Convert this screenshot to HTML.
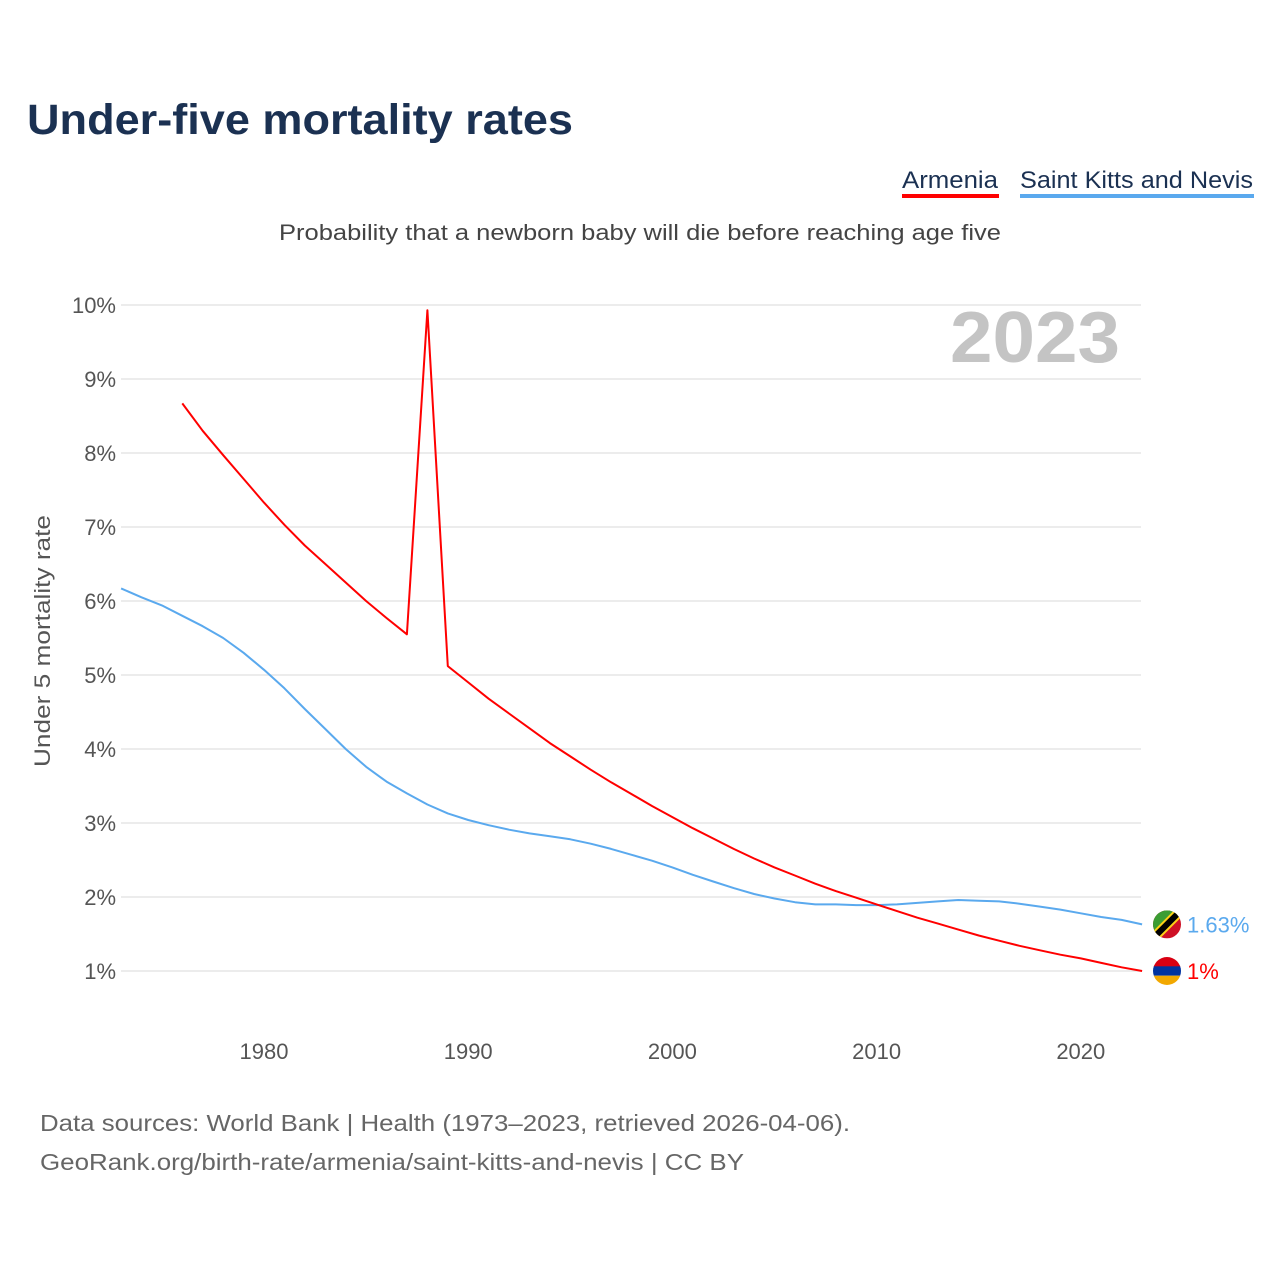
<!DOCTYPE html>
<html><head><meta charset="utf-8">
<style>
body{margin:0;background:#fff;font-family:"Liberation Sans",sans-serif;}
svg{display:block}
</style></head>
<body>
<svg width="1280" height="1280" xmlns="http://www.w3.org/2000/svg">
<text x="27" y="134" font-size="43" font-weight="bold" fill="#1b3152" textLength="546" lengthAdjust="spacingAndGlyphs">Under-five mortality rates</text>
<g>
<text x="902" y="188" font-size="24" fill="#1b3152" textLength="96" lengthAdjust="spacingAndGlyphs">Armenia</text>
<rect x="902" y="194" width="97" height="4" fill="#ff0000"/>
<text x="1020" y="188" font-size="24" fill="#1b3152" textLength="233" lengthAdjust="spacingAndGlyphs">Saint Kitts and Nevis</text>
<rect x="1020" y="194" width="234" height="4" fill="#5aa9ee"/>
</g>
<text x="279" y="240" font-size="22" fill="#444" textLength="722" lengthAdjust="spacingAndGlyphs">Probability that a newborn baby will die before reaching age five</text>
<text x="950" y="362" font-size="72" font-weight="bold" fill="#c4c4c4" textLength="170" lengthAdjust="spacingAndGlyphs">2023</text>
<text transform="translate(50,767) rotate(-90)" font-size="22" fill="#555" textLength="252" lengthAdjust="spacingAndGlyphs">Under 5 mortality rate</text>
<g id="grid"></g>
<g id="ticks"></g>
<g id="series"></g>
<g id="ends"></g>
<text x="40" y="1131" font-size="23" fill="#666" textLength="810" lengthAdjust="spacingAndGlyphs">Data sources: World Bank | Health (1973–2023, retrieved 2026-04-06).</text>
<text x="40" y="1170" font-size="23" fill="#666" textLength="704" lengthAdjust="spacingAndGlyphs">GeoRank.org/birth-rate/armenia/saint-kitts-and-nevis | CC BY</text>
</svg>
<script>
const yTicks=[1,2,3,4,5,6,7,8,9,10];
const xTicks=[1980,1990,2000,2010,2020];
const armeniaYears=[1976,1977,1978,1979,1980,1981,1982,1983,1984,1985,1986,1987,1988,1989,1990,1991,1992,1993,1994,1995,1996,1997,1998,1999,2000,2001,2002,2003,2004,2005,2006,2007,2008,2009,2010,2011,2012,2013,2014,2015,2016,2017,2018,2019,2020,2021,2022,2023];
const armeniaValues=[8.67,8.3,7.97,7.65,7.33,7.03,6.75,6.5,6.25,6.0,5.77,5.55,9.93,5.12,4.9,4.68,4.48,4.28,4.08,3.9,3.72,3.55,3.39,3.23,3.08,2.93,2.79,2.65,2.52,2.4,2.29,2.18,2.08,1.99,1.9,1.81,1.72,1.64,1.56,1.48,1.41,1.34,1.28,1.22,1.17,1.11,1.05,1.0];
const sknYears=[1973,1974,1975,1976,1977,1978,1979,1980,1981,1982,1983,1984,1985,1986,1987,1988,1989,1990,1991,1992,1993,1994,1995,1996,1997,1998,1999,2000,2001,2002,2003,2004,2005,2006,2007,2008,2009,2010,2011,2012,2013,2014,2015,2016,2017,2018,2019,2020,2021,2022,2023];
const sknValues=[6.17,6.05,5.94,5.8,5.66,5.5,5.3,5.07,4.82,4.54,4.27,4.0,3.76,3.56,3.4,3.25,3.13,3.04,2.97,2.91,2.86,2.82,2.78,2.72,2.65,2.57,2.49,2.4,2.3,2.21,2.12,2.04,1.98,1.93,1.9,1.9,1.89,1.89,1.9,1.92,1.94,1.96,1.95,1.94,1.91,1.87,1.83,1.78,1.73,1.69,1.63];
const NS="http://www.w3.org/2000/svg";
const X=y=>264+(y-1980)*20.42;
const Y=v=>971-(v-1)*74;
function mk(tag,attrs,parent){const e=document.createElementNS(NS,tag);for(const k in attrs)e.setAttribute(k,attrs[k]);document.getElementById(parent).appendChild(e);return e;}
yTicks.forEach(t=>{
 const l=mk('line',{x1:121,x2:1141,y1:Y(t),y2:Y(t),stroke:'#e6e6e6','stroke-width':1.5},'grid');
 
 
 const tx=mk('text',{x:116,y:Y(t)+8,'font-size':22,fill:'#555','text-anchor':'end'},'ticks');
 tx.textContent=t+'%';
 
 
});
xTicks.forEach(t=>{
 const tx=mk('text',{x:X(t),y:1059,'font-size':22,fill:'#555','text-anchor':'middle'},'ticks');
 tx.textContent=t;
 
 
});
function line(ys,vs,col,name){
 const p=mk('path',{d:ys.map((y,i)=>(i?'L':'M')+X(y).toFixed(1)+','+Y(vs[i]).toFixed(1)).join(''),fill:'none',stroke:col,'stroke-width':2,'stroke-linejoin':'round'},'series');
 
 
}
line(sknYears,sknValues,'#5aa9ee','line-saint-kitts');
line(armeniaYears,armeniaValues,'#ff0000','line-armenia');
const fx=1167;
const sy=Y(sknValues[sknValues.length-1]), ay=Y(armeniaValues[armeniaValues.length-1]);
const g=document.getElementById('ends');
g.innerHTML=`
<defs><clipPath id="c1"><circle cx="${fx}" cy="${sy}" r="14"/></clipPath><clipPath id="c2"><circle cx="${fx}" cy="${ay}" r="14"/></clipPath></defs>
<g clip-path="url(#c1)">
<rect x="${fx-14}" y="${sy-14}" width="28" height="28" fill="#ce1126"/>
<polygon points="${fx-14},${sy-14} ${fx+14},${sy-14} ${fx-14},${sy+14}" fill="#3a9d33"/>
<line x1="${fx-16}" y1="${sy+16}" x2="${fx+16}" y2="${sy-16}" stroke="#fcd116" stroke-width="10"/>
<line x1="${fx-16}" y1="${sy+16}" x2="${fx+16}" y2="${sy-16}" stroke="#000" stroke-width="6"/>
</g>
<g clip-path="url(#c2)">
<rect x="${fx-14}" y="${ay-14}" width="28" height="10" fill="#d90012"/>
<rect x="${fx-14}" y="${ay-4.7}" width="28" height="9.4" fill="#0033a0"/>
<rect x="${fx-14}" y="${ay+4.7}" width="28" height="10" fill="#f2a800"/>
</g>
<text x="1187" y="${sy+8}" font-size="22" fill="#5aa9ee">${sknValues[sknValues.length-1]}%</text>
<text x="1187" y="${ay+8}" font-size="22" fill="#ff0000">${armeniaValues[armeniaValues.length-1]}%</text>`;
</script>
</body></html>
